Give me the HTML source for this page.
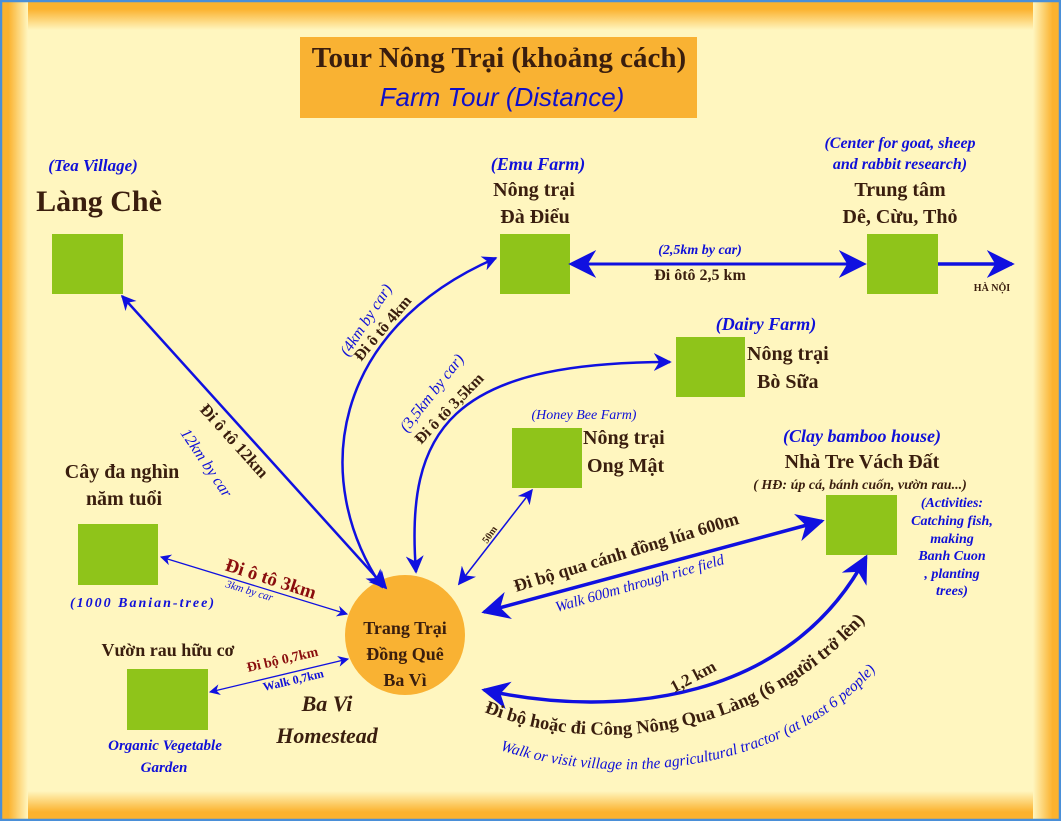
<!DOCTYPE html>
<html><head><meta charset="utf-8"><style>
html,body{margin:0;padding:0;}
body{width:1061px;height:821px;overflow:hidden;}
svg text{font-family:"Liberation Serif","Noto Serif CJK SC",serif;font-weight:bold;}
.d{fill:#3a1e0e;}
.b{fill:#1010d8;font-style:italic;}
.r{fill:#8a0e0e;}
</style></head><body>
<svg width="1061" height="821" viewBox="0 0 1061 821" xmlns="http://www.w3.org/2000/svg">
<defs>
<linearGradient id="gl" x1="0" x2="1"><stop offset="0" stop-color="#fbb22e"/><stop offset="0.3" stop-color="#fbb22e"/><stop offset="1" stop-color="#fff6bf"/></linearGradient>
<linearGradient id="gr" x1="1" x2="0"><stop offset="0" stop-color="#fbb22e"/><stop offset="0.3" stop-color="#fbb22e"/><stop offset="1" stop-color="#fff6bf"/></linearGradient>
<linearGradient id="gt" y1="0" y2="1" x1="0" x2="0"><stop offset="0" stop-color="#fbb22e"/><stop offset="0.3" stop-color="#fbb22e"/><stop offset="1" stop-color="#fff6bf"/></linearGradient>
<linearGradient id="gb" y1="1" y2="0" x1="0" x2="0"><stop offset="0" stop-color="#fbb22e"/><stop offset="0.3" stop-color="#fbb22e"/><stop offset="1" stop-color="#fff6bf"/></linearGradient>
<marker id="a" viewBox="0 0 10 10" refX="9" refY="5" markerWidth="11" markerHeight="11" markerUnits="userSpaceOnUse" orient="auto-start-reverse"><path d="M0,0 L10,5 L0,10 L3,5 z" fill="#1010e0"/></marker>
<marker id="m" viewBox="0 0 10 10" refX="9" refY="5" markerWidth="15" markerHeight="15" markerUnits="userSpaceOnUse" orient="auto-start-reverse"><path d="M0,0 L10,5 L0,10 L3,5 z" fill="#1010e0"/></marker>
<marker id="A" viewBox="0 0 10 10" refX="9" refY="5" markerWidth="28" markerHeight="28" markerUnits="userSpaceOnUse" orient="auto-start-reverse"><path d="M0,0 L10,5 L0,10 L3,5 z" fill="#1010e0"/></marker>
<marker id="s" viewBox="0 0 10 10" refX="9" refY="5" markerWidth="18" markerHeight="18" markerUnits="userSpaceOnUse" orient="auto-start-reverse"><path d="M0,0 L10,5 L0,10 L3,5 z" fill="#1010e0"/></marker>
<path id="p1" d="M484,712 C620,765 790,725 885,596"/>
<path id="p2" d="M500,750 C640,795 810,760 885,658"/>
</defs>
<rect width="1061" height="821" fill="#fff6bf"/>
<rect x="0" y="0" width="1061" height="30" fill="url(#gt)"/>
<rect x="0" y="791" width="1061" height="30" fill="url(#gb)"/>
<rect x="0" y="0" width="28" height="821" fill="url(#gl)"/>
<rect x="1033" y="0" width="28" height="821" fill="url(#gr)"/>
<rect x="1" y="1" width="1059" height="819" fill="none" stroke="#4a8fd8" stroke-width="2.5"/>

<rect x="300" y="37" width="397" height="81" fill="#f9b233"/>
<text x="499" y="67" text-anchor="middle" class="d" font-size="29">Tour Nông Trại (khoảng cách)</text>
<text x="502" y="106" text-anchor="middle" font-size="26" style="font-family:'Liberation Sans',sans-serif;font-style:italic;font-weight:normal;fill:#1010c8">Farm Tour (Distance)</text>

<g fill="#8fc41a">
<rect x="52" y="234" width="71" height="60"/>
<rect x="500" y="234" width="70" height="60"/>
<rect x="867" y="234" width="71" height="60"/>
<rect x="676" y="337" width="69" height="60"/>
<rect x="512" y="428" width="70" height="60"/>
<rect x="826" y="495" width="71" height="60"/>
<rect x="78" y="524" width="80" height="61"/>
<rect x="127" y="669" width="81" height="61"/>
</g>
<circle cx="405" cy="635" r="60" fill="#f9b233"/>

<g fill="none" stroke="#1010e0">
<line x1="122" y1="296" x2="386" y2="588" stroke-width="2.5" marker-start="url(#m)" marker-end="url(#s)"/>
<path d="M382,587 C310,480 330,330 496,258" stroke-width="2.5" marker-start="url(#s)" marker-end="url(#m)"/>
<path d="M416,572 C405,430 450,362 670,362" stroke-width="2.5" marker-start="url(#s)" marker-end="url(#s)"/>
<line x1="459" y1="584" x2="532" y2="490" stroke-width="1.5" marker-start="url(#s)" marker-end="url(#m)"/>
<line x1="484" y1="612" x2="822" y2="521" stroke-width="3.5" marker-start="url(#A)" marker-end="url(#A)"/>
<path d="M484,690 C620,720 790,700 866,557" stroke-width="3.5" marker-start="url(#A)" marker-end="url(#A)"/>
<line x1="571" y1="264" x2="864" y2="264" stroke-width="3" marker-start="url(#A)" marker-end="url(#A)"/>
<line x1="938" y1="264" x2="1012" y2="264" stroke-width="3.5" marker-end="url(#A)"/>
<line x1="161" y1="557" x2="347" y2="614" stroke-width="1.3" marker-start="url(#a)" marker-end="url(#a)"/>
<line x1="210" y1="692" x2="348" y2="659" stroke-width="1.3" marker-start="url(#a)" marker-end="url(#a)"/>
</g>

<text x="93" y="171" text-anchor="middle" class="b" font-size="17">(Tea Village)</text>
<text x="99" y="211" text-anchor="middle" class="d" font-size="30">Làng Chè</text>

<text x="538" y="170" text-anchor="middle" class="b" font-size="18">(Emu Farm)</text>
<text x="534" y="196" text-anchor="middle" class="d" font-size="20">Nông trại</text>
<text x="535" y="223" text-anchor="middle" class="d" font-size="20">Đà Điểu</text>

<text x="900" y="148" text-anchor="middle" class="b" font-size="16">(Center for goat, sheep</text>
<text x="900" y="169" text-anchor="middle" class="b" font-size="16">and rabbit research)</text>
<text x="900" y="196" text-anchor="middle" class="d" font-size="20">Trung tâm</text>
<text x="900" y="223" text-anchor="middle" class="d" font-size="20">Dê, Cừu, Thỏ</text>
<text x="992" y="291" text-anchor="middle" class="d" font-size="10">HÀ NỘI</text>

<text x="700" y="254" text-anchor="middle" class="b" font-size="14">(2,5km by car)</text>
<text x="700" y="280" text-anchor="middle" class="d" font-size="16">Đi ôtô 2,5 km</text>

<text x="766" y="330" text-anchor="middle" class="b" font-size="18">(Dairy Farm)</text>
<text x="747" y="360" class="d" font-size="20">Nông trại</text>
<text x="757" y="388" class="d" font-size="20">Bò Sữa</text>

<text x="584" y="419" text-anchor="middle" class="b" font-size="14" style="font-weight:normal">(Honey Bee Farm)</text>
<text x="583" y="444" class="d" font-size="20">Nông trại</text>
<text x="587" y="472" class="d" font-size="20">Ong Mật</text>

<text x="862" y="442" text-anchor="middle" class="b" font-size="18">(Clay bamboo house)</text>
<text x="862" y="468" text-anchor="middle" class="d" font-size="20">Nhà Tre Vách Đất</text>
<text x="860" y="489" text-anchor="middle" class="d" font-size="14" font-style="italic">( HĐ: úp cá, bánh cuốn, vườn rau...)</text>
<g class="b" font-size="14" text-anchor="middle">
<text x="952" y="507">(Activities:</text>
<text x="952" y="525">Catching fish,</text>
<text x="952" y="543">making</text>
<text x="952" y="560">Banh Cuon</text>
<text x="952" y="578">, planting</text>
<text x="952" y="595">trees)</text>
</g>

<text x="122" y="478" text-anchor="middle" class="d" font-size="20">Cây đa nghìn</text>
<text x="124" y="505" text-anchor="middle" class="d" font-size="20">năm tuổi</text>
<text x="143" y="607" text-anchor="middle" class="b" font-size="14" letter-spacing="2">(1000 Banian-tree)</text>

<text x="168" y="656" text-anchor="middle" class="d" font-size="18">Vườn rau hữu cơ</text>
<text x="165" y="750" text-anchor="middle" class="b" font-size="15">Organic Vegetable</text>
<text x="164" y="772" text-anchor="middle" class="b" font-size="15">Garden</text>

<text x="327" y="711" text-anchor="middle" class="d" font-size="22" font-style="italic">Ba Vi</text>
<text x="327" y="743" text-anchor="middle" class="d" font-size="22" font-style="italic">Homestead</text>

<text x="405" y="634" text-anchor="middle" class="d" font-size="18">Trang Trại</text>
<text x="405" y="660" text-anchor="middle" class="d" font-size="18">Đồng Quê</text>
<text x="405" y="686" text-anchor="middle" class="d" font-size="18">Ba Vì</text>

<text transform="translate(199,410) rotate(48)" class="d" font-size="17">Đi ô tô 12km</text>
<text transform="translate(180,433) rotate(56)" class="b" font-size="16" style="font-weight:normal">12km by car</text>

<text transform="translate(348,357) rotate(-57)" class="b" font-size="16" style="font-weight:normal">(4km by car)</text>
<text transform="translate(361,362) rotate(-50)" class="d" font-size="16">Đi ô tô 4km</text>

<text transform="translate(407,433) rotate(-52)" class="b" font-size="16" style="font-weight:normal">(3,5km by car)</text>
<text transform="translate(421,445) rotate(-46)" class="d" font-size="16">Đi ô tô 3,5km</text>

<text transform="translate(487,544) rotate(-55)" class="d" font-size="10">50m</text>

<text transform="translate(224,570) rotate(18)" class="r" font-size="19">Đi ô tô 3km</text>
<text transform="translate(225,587) rotate(17)" class="b" font-size="11" style="font-weight:normal">3km by car</text>
<text transform="translate(248,672) rotate(-13)" class="r" font-size="14">Đi bộ 0,7km</text>
<text transform="translate(264,691) rotate(-13)" class="b" font-size="12" style="font-style:normal">Walk 0,7km</text>

<text transform="translate(516,592) rotate(-17)" class="d" font-size="18">Đi bộ qua cánh đồng lúa  600m</text>
<text transform="translate(557,612) rotate(-16)" class="b" font-size="15" style="font-weight:normal">Walk 600m through rice field</text>

<text transform="translate(674,693) rotate(-28)" class="d" font-size="17">1,2 km</text>
<text class="d" font-size="18.5"><textPath href="#p1">Đi bộ hoặc đi Công Nông Qua Làng (6 người trở lên)</textPath></text>
<text class="b" font-size="15.5" style="font-weight:normal"><textPath href="#p2">Walk or visit village in the agricultural tractor (at least 6 people)</textPath></text>
</svg>
</body></html>
